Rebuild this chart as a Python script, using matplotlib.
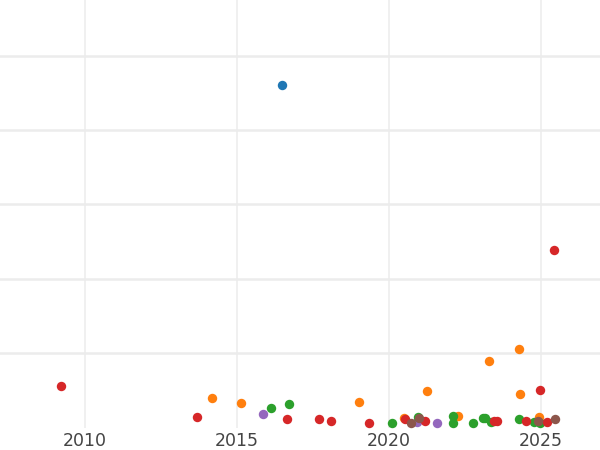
import matplotlib
matplotlib.use("Agg")
import matplotlib.pyplot as plt

# Data (x = year, y = value; y-axis labels are hidden)
blue_x = [2016.48]
blue_y = [4.60]

orange_x = [2014.17, 2015.14, 2019.01, 2020.50, 2021.25, 2022.26, 2023.28, 2024.27, 2024.31, 2024.92]
orange_y = [0.392, 0.323, 0.339, 0.121, 0.487, 0.152, 0.898, 1.051, 0.450, 0.137]

purple_x = [2015.87, 2020.91, 2021.59]
purple_y = [0.177, 0.078, 0.054]

green_x = [2016.12, 2016.71, 2020.10, 2020.97, 2022.10, 2022.10, 2022.75, 2023.10, 2023.17,
           2023.34, 2024.26, 2024.76, 2024.98]
green_y = [0.258, 0.312, 0.067, 0.141, 0.161, 0.058, 0.065, 0.121, 0.128,
           0.074, 0.110, 0.077, 0.054]

red_x = [2009.21, 2013.68, 2016.66, 2017.70, 2018.10, 2019.33, 2020.54, 2021.18, 2023.47,
         2023.56, 2024.51, 2024.97, 2025.21, 2025.43]
red_y = [0.558, 0.145, 0.114, 0.114, 0.087, 0.056, 0.117, 0.081, 0.087,
         0.090, 0.081, 0.508, 0.077, 2.386]

brown_x = [2020.74, 2020.99, 2024.89, 2025.47]
brown_y = [0.065, 0.130, 0.094, 0.114]

x_ticks = [2010, 2015, 2020, 2025]
y_grid = [1, 2, 3, 4, 5]

series = [
    (blue_x, blue_y, "#1f77b4"),
    (orange_x, orange_y, "#ff7f0e"),
    (purple_x, purple_y, "#9467bd"),
    (green_x, green_y, "#2ca02c"),
    (red_x, red_y, "#d62728"),
    (brown_x, brown_y, "#8c564b"),
]

fig = plt.figure(figsize=(6, 4.5), dpi=100)
ax = fig.add_axes([0, (450 - 427.5) / 450, 1, 427.5 / 450])

for xs, ys, c in series:
    ax.scatter(xs, ys, s=46, color=c, linewidths=0, zorder=3)

ax.set_xlim(2010 - 85 / 30.4, 2010 + 515 / 30.4)
ax.set_ylim(0, 427.5 / 74.4)
ax.set_xticks(x_ticks)
ax.set_xticklabels([str(t) for t in x_ticks])
ax.set_yticks(y_grid)
ax.set_yticklabels([])
ax.tick_params(axis="x", length=0, pad=3, labelsize=12.5, labelcolor="#444444")
ax.tick_params(axis="y", length=0)
ax.grid(True, axis="y", color="#ececec", linewidth=1.8)
ax.grid(True, axis="x", color="#ececec", linewidth=1.1)
ax.set_axisbelow(True)
for sp in ax.spines.values():
    sp.set_visible(False)

fig.savefig("out.png", dpi=100)
